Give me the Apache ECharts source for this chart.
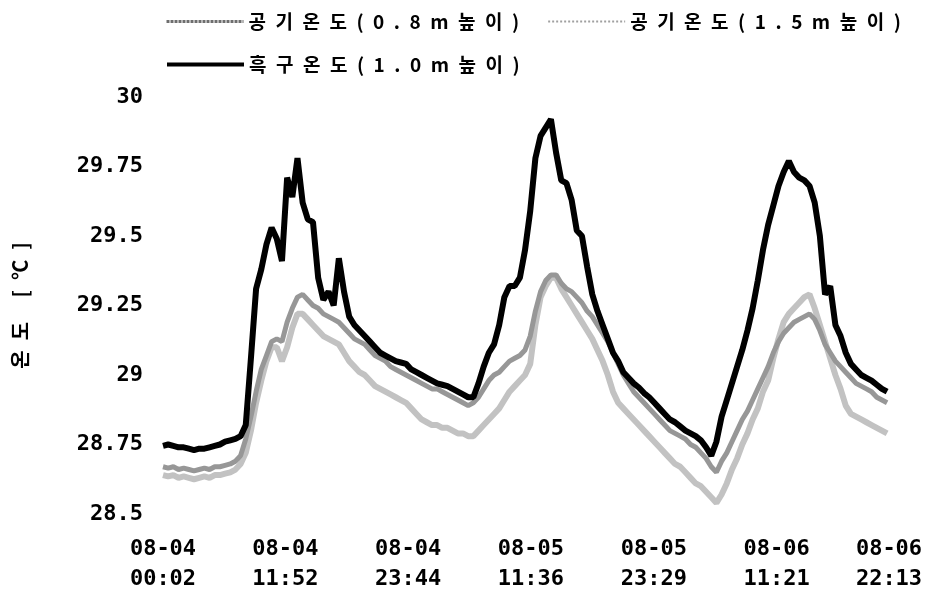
<!DOCTYPE html>
<html>
<head>
<meta charset="utf-8">
<script src="https://cdn.jsdelivr.net/npm/echarts@6/dist/echarts.min.js"></script>
<style>
  html, body { margin: 0; padding: 0; background: #fff; }
  #chart { width: 932px; height: 597px; }
</style>
</head>
<body>
<div id="chart"></div>
<script>
// Logger readings, one every 30 minutes from 08-04 00:02 (minutes counted from 08-04 00:00)
const startMinute = 2;
const stepMinutes = 30;
const endMinute = 4213;            // 08-06 22:13
const tickMinutes = [2, 712, 1424, 2136, 2849, 3561, 4213];
const yTicks = { min: 28.5, max: 30, step: 0.25 };
const seriesNames = ['공기온도(0.8m높이)', '공기온도(1.5m높이)', '흑구온도(1.0m높이)'];
const axisTitle = '온도 [℃]';

// Air temperature at 0.8 m
const air08 = [
  28.67, 28.665, 28.67, 28.66, 28.665, 28.66, 28.655, 28.66, 28.665, 28.66,
  28.67, 28.67, 28.675, 28.68, 28.69, 28.71, 28.77, 28.85, 28.94, 29.02,
  29.07, 29.12, 29.13, 29.12, 29.19, 29.24, 29.28, 29.29, 29.27, 29.25,
  29.24, 29.22, 29.21, 29.20, 29.19, 29.17, 29.15, 29.13, 29.12, 29.11,
  29.09, 29.07, 29.06, 29.05, 29.03, 29.02, 29.01, 29.00, 28.99, 28.98,
  28.97, 28.96, 28.95, 28.95, 28.94, 28.93, 28.92, 28.91, 28.90, 28.89,
  28.90, 28.92, 28.95, 28.98, 29.00, 29.01, 29.03, 29.05, 29.06, 29.07,
  29.09, 29.14, 29.23, 29.30, 29.34, 29.36, 29.36, 29.33, 29.31, 29.30,
  29.28, 29.26, 29.23, 29.21, 29.18, 29.15, 29.12, 29.08, 29.04, 29.00,
  28.97, 28.94, 28.92, 28.90, 28.88, 28.86, 28.84, 28.82, 28.80, 28.79,
  28.78, 28.77, 28.75, 28.74, 28.72, 28.70, 28.67, 28.65, 28.69, 28.72,
  28.76, 28.80, 28.84, 28.87, 28.91, 28.95, 28.99, 29.03, 29.08, 29.12,
  29.15, 29.17, 29.19, 29.20, 29.21, 29.22, 29.20, 29.16, 29.11, 29.08,
  29.05, 29.03, 29.01, 28.99, 28.97, 28.96, 28.95, 28.94, 28.92, 28.91,
  28.90
];

// Air temperature at 1.5 m
const air15 = [
  28.64, 28.635, 28.64, 28.63, 28.635, 28.63, 28.625, 28.63, 28.635, 28.63,
  28.64, 28.64, 28.645, 28.65, 28.66, 28.68, 28.72, 28.80, 28.90, 28.98,
  29.05, 29.10, 29.10, 29.05, 29.10, 29.17, 29.22, 29.22, 29.20, 29.18,
  29.16, 29.14, 29.13, 29.12, 29.11, 29.08, 29.05, 29.03, 29.01, 29.00,
  28.98, 28.96, 28.95, 28.94, 28.93, 28.92, 28.91, 28.90, 28.88, 28.86,
  28.84, 28.83, 28.82, 28.82, 28.81, 28.81, 28.80, 28.79, 28.79, 28.78,
  28.78, 28.80, 28.82, 28.84, 28.86, 28.88, 28.91, 28.94, 28.96, 28.98,
  29.00, 29.04, 29.18, 29.28, 29.32, 29.35, 29.35, 29.31, 29.28, 29.25,
  29.22, 29.19, 29.16, 29.13, 29.09, 29.05, 29.00, 28.94, 28.90, 28.88,
  28.86, 28.84, 28.82, 28.80, 28.78, 28.76, 28.74, 28.72, 28.70, 28.68,
  28.67, 28.65, 28.63, 28.61, 28.60, 28.58, 28.56, 28.54, 28.57, 28.61,
  28.66, 28.70, 28.75, 28.79, 28.84, 28.88, 28.94, 28.98, 29.06, 29.13,
  29.19, 29.22, 29.24, 29.26, 29.28, 29.29, 29.24, 29.18, 29.12, 29.06,
  29.00, 28.95, 28.89, 28.86, 28.85, 28.84, 28.83, 28.82, 28.81, 28.80,
  28.79
];

// Globe temperature at 1.0 m
const globe10 = [
  28.745, 28.75, 28.745, 28.74, 28.74, 28.735, 28.73, 28.735, 28.735, 28.74,
  28.745, 28.75, 28.76, 28.765, 28.77, 28.78, 28.82, 29.06, 29.31, 29.38,
  29.47, 29.53, 29.49, 29.41, 29.71, 29.64, 29.78, 29.62, 29.56, 29.55,
  29.35, 29.27, 29.30, 29.25, 29.42, 29.30, 29.21, 29.18, 29.16, 29.14,
  29.12, 29.10, 29.08, 29.07, 29.06, 29.05, 29.045, 29.04, 29.02, 29.01,
  29.00, 28.99, 28.98, 28.97, 28.965, 28.96, 28.95, 28.94, 28.93, 28.92,
  28.92, 28.97, 29.03, 29.08, 29.11, 29.18, 29.28, 29.32, 29.32, 29.35,
  29.45, 29.59, 29.78, 29.86, 29.89, 29.92, 29.80, 29.70, 29.69, 29.63,
  29.52, 29.50, 29.39, 29.29, 29.23, 29.18, 29.13, 29.08, 29.05, 29.01,
  28.99, 28.97, 28.955, 28.935, 28.92, 28.90, 28.88, 28.86, 28.84, 28.83,
  28.815, 28.80, 28.79, 28.78, 28.765, 28.74, 28.71, 28.76, 28.85, 28.91,
  28.97, 29.03, 29.09, 29.16, 29.24, 29.34, 29.45, 29.54, 29.61, 29.68,
  29.73, 29.77, 29.73, 29.71, 29.70, 29.68, 29.62, 29.50, 29.29, 29.32,
  29.18, 29.14, 29.08, 29.04, 29.02, 29.00, 28.99, 28.98, 28.965, 28.95,
  28.94
];

const pad2 = n => String(n).padStart(2, '0');
function stampLabel(m) {
  const day = 4 + Math.floor(m / 1440);
  const rest = m % 1440;
  return '08-' + pad2(day) + '\n' + pad2(Math.floor(rest / 60)) + ':' + pad2(rest % 60);
}
// widen the Korean captions the way the printed figure spaces them
const spaced = s => Array.from(s).join('\u2002');
const pairs = values => values.map((v, i) => [startMinute + i * stepMinutes, v]);

const numFont = { fontFamily: 'DejaVu Sans Mono', fontWeight: 'bold', fontSize: 22, color: '#000' };
const krFont = { fontFamily: 'Noto Sans CJK KR', fontWeight: 'bold', fontSize: 19, color: '#000' };

const legendBase = {
  left: 160, itemWidth: 77, itemHeight: 14,
  itemStyle: { opacity: 0 },
  textStyle: krFont,
  formatter: spaced
};

const chart = echarts.init(document.getElementById('chart'), null, { renderer: 'canvas' });
chart.setOption({
  animation: false,
  backgroundColor: '#fff',
  grid: { left: 163, right: 43, top: 97, bottom: 83, containLabel: false },
  legend: [
    {
      ...legendBase,
      top: 7, itemGap: 28,
      data: [
        { name: seriesNames[0], lineStyle: { color: '#6e6e6e', width: 3, type: [3, 1] } },
        { name: seriesNames[1], lineStyle: { color: '#a0a0a0', width: 2, type: [2, 2] } }
      ]
    },
    {
      ...legendBase,
      top: 50,
      data: [{ name: seriesNames[2], lineStyle: { color: '#000', width: 4 } }]
    }
  ],
  xAxis: {
    type: 'value',
    min: startMinute,
    max: endMinute,
    axisLine: { show: false },
    axisTick: { show: false },
    splitLine: { show: false },
    axisLabel: {
      customValues: tickMinutes,
      formatter: stampLabel,
      margin: 20,
      lineHeight: 30,
      hideOverlap: false,
      showMinLabel: true,
      showMaxLabel: true,
      ...numFont
    }
  },
  yAxis: {
    type: 'value',
    min: yTicks.min,
    max: yTicks.max,
    interval: yTicks.step,
    axisLine: { show: false },
    axisTick: { show: false },
    splitLine: { show: false },
    axisLabel: { margin: 20, ...numFont },
    name: spaced(axisTitle),
    nameLocation: 'middle',
    nameRotate: 90,
    nameGap: 133,
    nameTextStyle: { ...krFont, fontSize: 20 }
  },
  series: [
    {
      name: seriesNames[1], type: 'line', data: pairs(air15),
      showSymbol: false, symbol: 'none', z: 1,
      lineStyle: { color: '#c2c2c2', width: 6 }, itemStyle: { color: '#a8a8a8' }
    },
    {
      name: seriesNames[0], type: 'line', data: pairs(air08),
      showSymbol: false, symbol: 'none', z: 2,
      lineStyle: { color: '#979797', width: 5 }, itemStyle: { color: '#7a7a7a' }
    },
    {
      name: seriesNames[2], type: 'line', data: pairs(globe10),
      showSymbol: false, symbol: 'none', z: 3,
      lineStyle: { color: '#000', width: 6 }, itemStyle: { color: '#000' }
    }
  ]
});
</script>
</body>
</html>
